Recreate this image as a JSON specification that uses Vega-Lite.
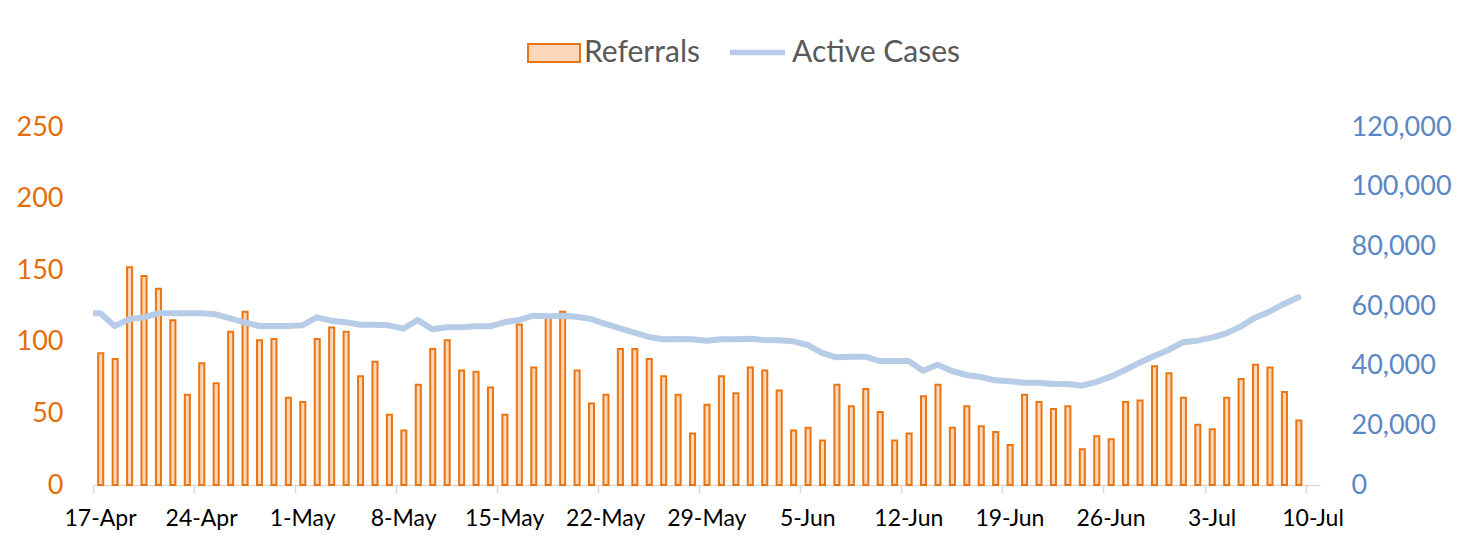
{
  "$schema": "https://vega.github.io/schema/vega-lite/v6.json",
  "autosize": {"type": "none"},
  "width": 1227,
  "height": 358,
  "padding": {"left": 93, "top": 127, "right": 139, "bottom": 51},
  "background": "white",
  "config": {"font": "Lato", "view": {"stroke": null}},
  "data": {"values": [
    {"date": "2020-04-16", "Active": 57550},
    {"date": "2020-04-17", "Referrals": 92, "Active": 57550},
    {"date": "2020-04-18", "Referrals": 88, "Active": 53300},
    {"date": "2020-04-19", "Referrals": 152, "Active": 55540},
    {"date": "2020-04-20", "Referrals": 146, "Active": 56200},
    {"date": "2020-04-21", "Referrals": 137, "Active": 57550},
    {"date": "2020-04-22", "Referrals": 115, "Active": 57550},
    {"date": "2020-04-23", "Referrals": 63, "Active": 57550},
    {"date": "2020-04-24", "Referrals": 85, "Active": 57550},
    {"date": "2020-04-25", "Referrals": 71, "Active": 57200},
    {"date": "2020-04-26", "Referrals": 107, "Active": 55880},
    {"date": "2020-04-27", "Referrals": 121, "Active": 54540},
    {"date": "2020-04-28", "Referrals": 101, "Active": 53300},
    {"date": "2020-04-29", "Referrals": 102, "Active": 53300},
    {"date": "2020-04-30", "Referrals": 61, "Active": 53300},
    {"date": "2020-05-01", "Referrals": 58, "Active": 53530},
    {"date": "2020-05-02", "Referrals": 102, "Active": 56200},
    {"date": "2020-05-03", "Referrals": 110, "Active": 55080},
    {"date": "2020-05-04", "Referrals": 107, "Active": 54540},
    {"date": "2020-05-05", "Referrals": 76, "Active": 53740},
    {"date": "2020-05-06", "Referrals": 86, "Active": 53740},
    {"date": "2020-05-07", "Referrals": 49, "Active": 53530},
    {"date": "2020-05-08", "Referrals": 38, "Active": 52400},
    {"date": "2020-05-09", "Referrals": 70, "Active": 55300},
    {"date": "2020-05-10", "Referrals": 95, "Active": 52180},
    {"date": "2020-05-11", "Referrals": 101, "Active": 52850},
    {"date": "2020-05-12", "Referrals": 80, "Active": 52850},
    {"date": "2020-05-13", "Referrals": 79, "Active": 53190},
    {"date": "2020-05-14", "Referrals": 68, "Active": 53190},
    {"date": "2020-05-15", "Referrals": 49, "Active": 54540},
    {"date": "2020-05-16", "Referrals": 112, "Active": 55300},
    {"date": "2020-05-17", "Referrals": 82, "Active": 56750},
    {"date": "2020-05-18", "Referrals": 118, "Active": 56530},
    {"date": "2020-05-19", "Referrals": 121, "Active": 56750},
    {"date": "2020-05-20", "Referrals": 80, "Active": 56420},
    {"date": "2020-05-21", "Referrals": 57, "Active": 55640},
    {"date": "2020-05-22", "Referrals": 63, "Active": 53970},
    {"date": "2020-05-23", "Referrals": 95, "Active": 52520},
    {"date": "2020-05-24", "Referrals": 95, "Active": 51060},
    {"date": "2020-05-25", "Referrals": 88, "Active": 49610},
    {"date": "2020-05-26", "Referrals": 76, "Active": 48840},
    {"date": "2020-05-27", "Referrals": 63, "Active": 48940},
    {"date": "2020-05-28", "Referrals": 36, "Active": 48840},
    {"date": "2020-05-29", "Referrals": 56, "Active": 48330},
    {"date": "2020-05-30", "Referrals": 76, "Active": 48840},
    {"date": "2020-05-31", "Referrals": 64, "Active": 48840},
    {"date": "2020-06-01", "Referrals": 82, "Active": 49040},
    {"date": "2020-06-02", "Referrals": 80, "Active": 48600},
    {"date": "2020-06-03", "Referrals": 66, "Active": 48500},
    {"date": "2020-06-04", "Referrals": 38, "Active": 48170},
    {"date": "2020-06-05", "Referrals": 40, "Active": 46930},
    {"date": "2020-06-06", "Referrals": 31, "Active": 44250},
    {"date": "2020-06-07", "Referrals": 70, "Active": 42800},
    {"date": "2020-06-08", "Referrals": 55, "Active": 43010},
    {"date": "2020-06-09", "Referrals": 67, "Active": 43010},
    {"date": "2020-06-10", "Referrals": 51, "Active": 41560},
    {"date": "2020-06-11", "Referrals": 31, "Active": 41560},
    {"date": "2020-06-12", "Referrals": 36, "Active": 41560},
    {"date": "2020-06-13", "Referrals": 62, "Active": 38320},
    {"date": "2020-06-14", "Referrals": 70, "Active": 40330},
    {"date": "2020-06-15", "Referrals": 40, "Active": 38210},
    {"date": "2020-06-16", "Referrals": 55, "Active": 36870},
    {"date": "2020-06-17", "Referrals": 41, "Active": 36200},
    {"date": "2020-06-18", "Referrals": 37, "Active": 35080},
    {"date": "2020-06-19", "Referrals": 28, "Active": 34750},
    {"date": "2020-06-20", "Referrals": 63, "Active": 34300},
    {"date": "2020-06-21", "Referrals": 58, "Active": 34300},
    {"date": "2020-06-22", "Referrals": 53, "Active": 33860},
    {"date": "2020-06-23", "Referrals": 55, "Active": 33860},
    {"date": "2020-06-24", "Referrals": 25, "Active": 33300},
    {"date": "2020-06-25", "Referrals": 34, "Active": 34530},
    {"date": "2020-06-26", "Referrals": 32, "Active": 36310},
    {"date": "2020-06-27", "Referrals": 58, "Active": 38550},
    {"date": "2020-06-28", "Referrals": 59, "Active": 41000},
    {"date": "2020-06-29", "Referrals": 83, "Active": 43240},
    {"date": "2020-06-30", "Referrals": 78, "Active": 45250},
    {"date": "2020-07-01", "Referrals": 61, "Active": 47820},
    {"date": "2020-07-02", "Referrals": 42, "Active": 48380},
    {"date": "2020-07-03", "Referrals": 39, "Active": 49390},
    {"date": "2020-07-04", "Referrals": 61, "Active": 50840},
    {"date": "2020-07-05", "Referrals": 74, "Active": 53080},
    {"date": "2020-07-06", "Referrals": 84, "Active": 56090},
    {"date": "2020-07-07", "Referrals": 82, "Active": 58100},
    {"date": "2020-07-08", "Referrals": 65, "Active": 60680},
    {"date": "2020-07-09", "Referrals": 45, "Active": 62900}
  ]},
  "layer": [
    {
      "mark": {
        "type": "bar",
        "width": {"band": 0.42},
        "stroke": "#E97614",
        "strokeWidth": 2
      },
      "encoding": {
        "x": {
          "field": "date",
          "timeUnit": "utcyearmonthdate",
          "type": "temporal",
          "title": null,
          "scale": {
            "type": "utc",
            "domain": [
              {"year": 2020, "month": 4, "date": 17, "utc": true},
              {"year": 2020, "month": 7, "date": 11, "utc": true}
            ]
          },
          "axis": {
            "values": [
              {"year": 2020, "month": 4, "date": 17, "utc": true},
              {"year": 2020, "month": 4, "date": 24, "utc": true},
              {"year": 2020, "month": 5, "date": 1, "utc": true},
              {"year": 2020, "month": 5, "date": 8, "utc": true},
              {"year": 2020, "month": 5, "date": 15, "utc": true},
              {"year": 2020, "month": 5, "date": 22, "utc": true},
              {"year": 2020, "month": 5, "date": 29, "utc": true},
              {"year": 2020, "month": 6, "date": 5, "utc": true},
              {"year": 2020, "month": 6, "date": 12, "utc": true},
              {"year": 2020, "month": 6, "date": 19, "utc": true},
              {"year": 2020, "month": 6, "date": 26, "utc": true},
              {"year": 2020, "month": 7, "date": 3, "utc": true},
              {"year": 2020, "month": 7, "date": 10, "utc": true}
            ],
            "labelExpr": "utcFormat(datum.value, '%-d-%b')",
            "labelOffset": 7,
            "labelFlush": false,
            "labelOverlap": false,
            "labelFont": "Lato",
            "labelFontSize": 23,
            "labelColor": "#000000",
            "labelPadding": 14,
            "tickSize": 8,
            "tickColor": "#D9D9D9",
            "tickWidth": 1.5,
            "domainColor": "#D9D9D9",
            "domainWidth": 1.5,
            "grid": false
          }
        },
        "y": {
          "field": "Referrals",
          "type": "quantitative",
          "title": null,
          "scale": {"domain": [0, 250]},
          "axis": {
            "orient": "left",
            "values": [0, 50, 100, 150, 200, 250],
            "labelFont": "Lato",
            "labelFontSize": 27,
            "labelColor": "#E46C0A",
            "labelPadding": 30,
            "domain": false,
            "ticks": false,
            "grid": false
          }
        },
        "fill": {
          "datum": "Referrals",
          "type": "nominal",
          "scale": {"range": ["#FCD7B9"]},
          "legend": {
            "title": null,
            "orient": "none",
            "legendX": 434,
            "legendY": -101,
            "symbolType": "M-1,-0.346H1V0.346H-1Z",
            "symbolSize": 2704,
            "symbolStrokeColor": "#E97614",
            "symbolStrokeWidth": 2,
            "symbolFillColor": "#FCD7B9",
            "labelFont": "Lato",
            "labelFontSize": 30,
            "labelColor": "#595959",
            "labelOffset": 3,
            "labelLimit": 300
          }
        }
      }
    },
    {
      "mark": {
        "type": "line",
        "strokeWidth": 6,
        "strokeCap": "round",
        "strokeJoin": "round",
        "clip": true
      },
      "encoding": {
        "x": {
          "field": "date",
          "timeUnit": "utcyearmonthdate",
          "type": "temporal",
          "bandPosition": 0.5
        },
        "y": {
          "field": "Active",
          "type": "quantitative",
          "title": null,
          "scale": {"domain": [0, 120000]},
          "axis": {
            "orient": "right",
            "values": [0, 20000, 40000, 60000, 80000, 100000, 120000],
            "labelExpr": "format(datum.value, ',')",
            "labelFont": "Lato",
            "labelFontSize": 27,
            "labelColor": "#5B87C4",
            "labelPadding": 31,
            "domain": false,
            "ticks": false,
            "grid": false
          }
        },
        "stroke": {
          "datum": "Active Cases",
          "type": "nominal",
          "scale": {"range": ["#B7CCE6"]},
          "legend": {
            "title": null,
            "orient": "none",
            "legendX": 634,
            "legendY": -105,
            "symbolType": "stroke",
            "symbolSize": 3025,
            "symbolStrokeWidth": 5.5,
            "symbolStrokeColor": "#B7CCE6",
            "labelFont": "Lato",
            "labelFontSize": 30,
            "labelColor": "#595959",
            "labelOffset": 4,
            "labelLimit": 300
          }
        }
      }
    }
  ],
  "resolve": {"scale": {"y": "independent", "fill": "independent", "stroke": "independent"}}
}
